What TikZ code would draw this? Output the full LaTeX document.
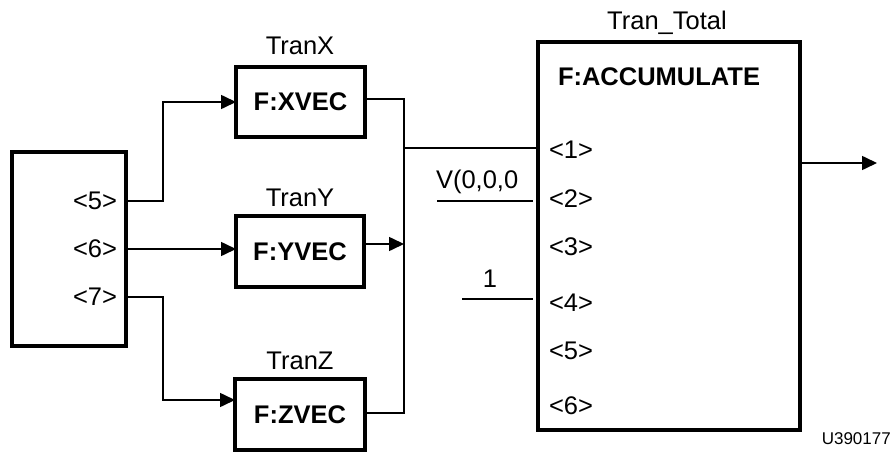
\documentclass[tikz,border=0pt]{standalone}
\usepackage{fontspec}
\setmainfont{Liberation Sans}
\usetikzlibrary{arrows.meta}
\begin{document}
\begin{tikzpicture}[x=1pt,y=-1pt,
  blk/.style={draw,line width=3.2pt,inner sep=0pt,outer sep=0pt,font=\fontsize{25.5}{28}\selectfont\bfseries},
  lbl/.style={inner sep=0pt,outer sep=0pt,font=\fontsize{25.5}{28}\selectfont},
  conn/.style={line width=1.6pt},
  arr/.style={conn,-{Triangle[length=15pt,width=14pt]}}]
\useasboundingbox (0,0) rectangle (894,452);
% boxes
\node[blk,minimum width=114pt,minimum height=194pt] (L) at (69,249) {};
\node[blk,minimum width=129pt,minimum height=70pt] (X) at (300.5,102) {F:XVEC};
\node[blk,minimum width=128pt,minimum height=71pt] (Y) at (300,251.5) {F:YVEC};
\node[blk,minimum width=130pt,minimum height=71pt] (Z) at (300,414.5) {F:ZVEC};
\node[blk,minimum width=262pt,minimum height=388pt] (T) at (669,236) {};
% titles
\node[lbl,anchor=base] (tx) at (300,55) {TranX};
\node[lbl,anchor=base] (ty) at (300,206) {TranY};
\node[lbl,anchor=base] (tz) at (300,369) {TranZ};
\node[lbl,anchor=base] (tt) at (667,30) {Tran\_Total};
\node[lbl,anchor=base west,font=\fontsize{25.5}{28}\selectfont\bfseries] (acc) at (558,85) {F:ACCUMULATE};
% left ports
\node[lbl,anchor=east] (l5) at (117,201) {<5>};
\node[lbl,anchor=east] (l6) at (117,249) {<6>};
\node[lbl,anchor=east] (l7) at (117,297) {<7>};
% right ports
\node[lbl,anchor=west] (t1) at (549,150) {<1>};
\node[lbl,anchor=west] (t2) at (549,199) {<2>};
\node[lbl,anchor=west] (t3) at (549,247) {<3>};
\node[lbl,anchor=west] (t4) at (549,303) {<4>};
\node[lbl,anchor=west] (t5) at (549,351) {<5>};
\node[lbl,anchor=west] (t6) at (549,406) {<6>};
% constants
\node[lbl,anchor=base west] (v0) at (436,188) {V(0,0,0};
\node[lbl,anchor=base] (one) at (490,287) {1};
\node[inner sep=0pt,anchor=base east,font=\fontsize{17}{20}\selectfont] (id) at (891,444) {U390177};
% coordinates
\coordinate (bus) at (404,0);
\coordinate (sx) at (163,0);
\coordinate (v0s) at (437,201);
\coordinate (v0e) at (533,201);
\coordinate (ones) at (462,299);
\coordinate (onee) at (533,299);
\coordinate (out) at (877,163);
% connectors
\draw[arr] (L.east |- 0,201) -| (sx |- X.west) -- (X.west);
\draw[arr] (L.east |- 0,249) -- (Y.west |- 0,249);
\draw[arr] (L.east |- 0,297) -| (sx |- 0,400) -- ([yshift=14.5pt]Z.west);
\draw[conn] ([yshift=3pt]X.east) -| (bus |- 0,413) -- (Z.east |- 0,413);
\draw[arr] ([yshift=7.5pt]Y.east) -- (bus |- 0,244);
\draw[conn] (bus |- 0,148) -- (T.west |- 0,148);
\draw[conn] (v0s) -- (v0e);
\draw[conn] (ones) -- (onee);
\draw[arr] (T.east |- out) -- (out);
\end{tikzpicture}
\end{document}
